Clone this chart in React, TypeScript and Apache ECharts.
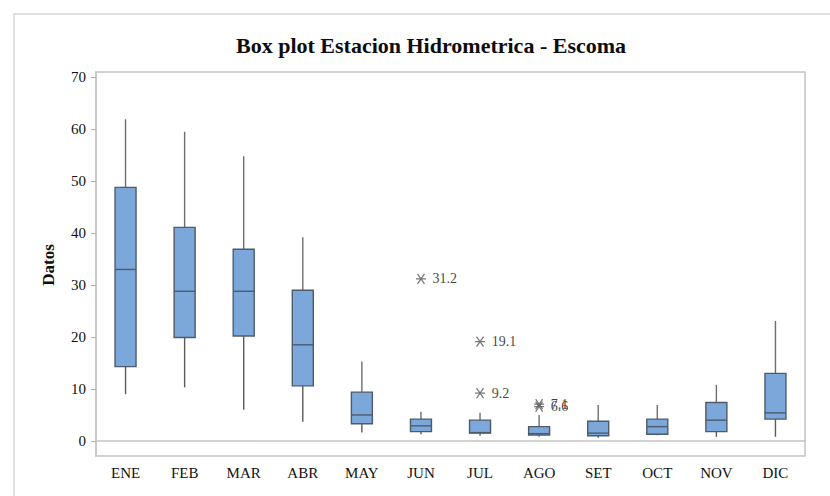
import React, { useEffect, useRef } from "react";
import * as echarts from "echarts";

const months = ["ENE", "FEB", "MAR", "ABR", "MAY", "JUN", "JUL", "AGO", "SET", "OCT", "NOV", "DIC"];
// [low whisker, Q1, median, Q3, high whisker]
const lowWhisker = [9.0, 10.3, 6.0, 3.7, 1.6, 1.3, 1.0, 0.8, 0.6, 1.1, 0.8, 0.8];
const q1 = [14.3, 19.9, 20.2, 10.6, 3.3, 1.8, 1.5, 1.15, 1.0, 1.3, 1.8, 4.2];
const median = [33.0, 28.8, 28.8, 18.5, 5.0, 2.9, 1.6, 1.4, 1.5, 2.75, 4.0, 5.4];
const q3 = [48.8, 41.1, 36.9, 29.0, 9.4, 4.2, 4.0, 2.75, 3.8, 4.2, 7.4, 13.0];
const highWhisker = [61.9, 59.5, 54.8, 39.2, 15.3, 5.6, 5.4, 5.0, 6.9, 6.9, 10.8, 23.1];
const outlierMonths = ["JUN", "JUL", "JUL", "AGO", "AGO"];
const outlierValues = [31.2, 19.1, 9.2, 7.1, 6.6];
const yTicks = [0, 10, 20, 30, 40, 50, 60, 70];

const SERIF = "'Liberation Serif', 'Times New Roman', serif";

export default function App() {
  const ref = useRef<HTMLDivElement>(null);
  useEffect(() => {
    if (!ref.current) return;
    const chart = echarts.init(ref.current, null, { renderer: "svg" });
    const boxData = months.map((m, i) => [i, lowWhisker[i], q1[i], median[i], q3[i], highWhisker[i]]);
    const outData = outlierMonths.map((m, i) => [months.indexOf(m), outlierValues[i]]);
    const halfW = 10.5;
    chart.setOption({
      animation: false,
      backgroundColor: "#ffffff",
      grid: { left: 96, top: 72, right: 25, bottom: 40, show: true, borderColor: "#c4c4c4", borderWidth: 1.5 },
      graphic: [
        { type: "rect", shape: { x: 14, y: 14, width: 830, height: 500 }, style: { fill: "none", stroke: "#d6d6d6", lineWidth: 1.5 }, silent: true },
        { type: "text", x: 431, y: 45, style: { text: "Box plot Estacion Hidrometrica - Escoma", font: `bold 22px ${SERIF}`, fill: "#0d0d0d", align: "center", verticalAlign: "middle" } },
        { type: "text", x: 48, y: 265, rotation: Math.PI / 2, style: { text: "Datos", font: `bold 17px ${SERIF}`, fill: "#0d0d0d", align: "center", verticalAlign: "middle" } },
      ],
      xAxis: {
        type: "category",
        data: months,
        boundaryGap: true,
        axisLine: { lineStyle: { color: "#c4c4c4", width: 1.5 } },
        axisTick: { alignWithLabel: true, length: 5, lineStyle: { color: "#b0b0b0" } },
        axisLabel: { color: "#111", fontFamily: SERIF, fontSize: 15, margin: 9 },
        splitLine: { show: false },
      },
      yAxis: {
        type: "value",
        min: -2.9,
        max: 71,
        axisLine: { show: true, lineStyle: { color: "#c4c4c4", width: 1.5 } },
        axisTick: { show: true, length: 5, customValues: yTicks, lineStyle: { color: "#b0b0b0" } },
        axisLabel: { color: "#111", fontFamily: SERIF, fontSize: 15, margin: 10, customValues: yTicks },
        splitLine: { show: false },
      },
      series: [
        {
          type: "custom",
          data: boxData,
          encode: { x: 0, y: [1, 2, 3, 4, 5] },
          renderItem: (params: any, api: any) => {
            const x = api.value(0);
            const pLow = api.coord([x, api.value(1)]);
            const pQ1 = api.coord([x, api.value(2)]);
            const pMed = api.coord([x, api.value(3)]);
            const pQ3 = api.coord([x, api.value(4)]);
            const pHigh = api.coord([x, api.value(5)]);
            const cx = pMed[0];
            return {
              type: "group",
              children: [
                { type: "line", shape: { x1: cx, y1: pHigh[1], x2: cx, y2: pQ3[1] }, style: { stroke: "#6e6e6e", lineWidth: 1.4 } },
                { type: "line", shape: { x1: cx, y1: pQ1[1], x2: cx, y2: pLow[1] }, style: { stroke: "#5a5a5a", lineWidth: 1.4 } },
                { type: "rect", shape: { x: cx - halfW, y: pQ3[1], width: halfW * 2, height: pQ1[1] - pQ3[1] }, style: { fill: "#7ba7da", stroke: "#4f5b69", lineWidth: 1.4 } },
                { type: "line", shape: { x1: cx - halfW, y1: pMed[1], x2: cx + halfW, y2: pMed[1] }, style: { stroke: "#4f5b69", lineWidth: 1.4 } },
              ],
            };
          },
        },
        {
          type: "scatter",
          data: outData,
          symbol: "path://M0,5L10,5M1.5,1.5L8.5,8.5M1.5,8.5L8.5,1.5",
          symbolSize: 10,
          itemStyle: { color: "rgba(0,0,0,0)", borderColor: "#555", borderWidth: 1.2 },
          label: {
            show: true,
            position: "right",
            distance: 6,
            formatter: (p: any) => String(p.value[1]),
            color: "#111",
            fontFamily: SERIF,
            fontSize: 14,
          },
        },
      ],
    });
    return () => chart.dispose();
  }, []);
  return <div ref={ref} style={{ position: "fixed", left: 0, top: 0, width: 830, height: 496 }} />;
}
